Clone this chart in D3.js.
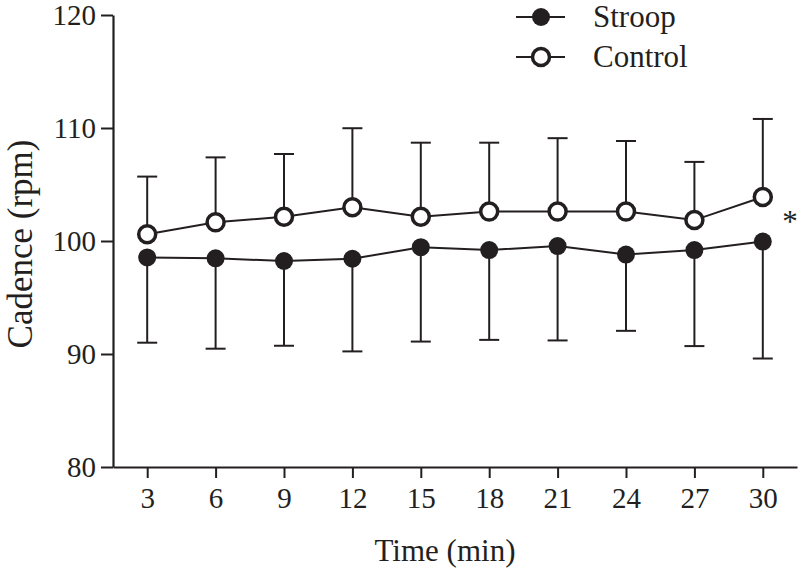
<!DOCTYPE html>
<html><head><meta charset="utf-8">
<script src="https://cdn.jsdelivr.net/npm/d3@7"></script>
<style>body{margin:0;background:#fff}</style>
</head><body>
<svg id="c" width="800" height="572"></svg>
<script>
const times = [3, 6, 9, 12, 15, 18, 21, 24, 27, 30];
const stroopMean = [98.55, 98.47, 98.23, 98.43, 99.45, 99.2, 99.55, 98.8, 99.2, 99.95];
const stroopSD   = [7.55, 8.0, 7.5, 8.2, 8.35, 7.95, 8.35, 6.75, 8.5, 10.35];
const controlMean = [100.6, 101.65, 102.15, 102.98, 102.15, 102.6, 102.6, 102.6, 101.85, 103.9];
const controlSD   = [5.1, 5.75, 5.55, 7.0, 6.55, 6.1, 6.5, 6.25, 5.15, 6.9];
const yTicks = [80, 90, 100, 110, 120];
const seriesNames = ["Stroop", "Control"];

const ink = "#231f20";
const font = "'Liberation Serif','Times New Roman',serif";
const svg = d3.select("#c");

const x = d3.scaleLinear().domain([1.5, 31.5]).range([113, 797]);
const y = d3.scaleLinear().domain([80, 120]).range([467, 15]);

// axes
const yAxis = svg.append("g").attr("transform", "translate(113,0)")
  .call(d3.axisLeft(y).tickValues(yTicks).tickSize(12).tickPadding(5).tickSizeOuter(0));
const xAxis = svg.append("g").attr("transform", "translate(0,467)")
  .call(d3.axisBottom(x).tickValues(times).tickSize(11).tickPadding(9).tickSizeOuter(0));
[yAxis, xAxis].forEach(g => {
  g.select(".domain").attr("stroke", ink).attr("stroke-width", 2.2);
  g.selectAll(".tick line").attr("stroke", ink).attr("stroke-width", 2);
  g.selectAll(".tick text").attr("fill", ink).style("font-family", font).style("font-size", "29px");
});
yAxis.selectAll(".tick text").attr("dy", "0.34em");

svg.append("text").attr("x", 445).attr("y", 561).attr("text-anchor", "middle")
  .attr("fill", ink).style("font-family", font).style("font-size", "31px").text("Time (min)");
svg.append("text").attr("transform", "translate(32,244) rotate(-90)").attr("text-anchor", "middle")
  .attr("fill", ink).style("font-family", font).style("font-size", "35px").text("Cadence (rpm)");

const cap = 10;
// error bars
function errBars(means, sds, dir) {
  const g = svg.append("g").attr("stroke", ink).attr("stroke-width", 2);
  times.forEach((t, i) => {
    const y0 = y(means[i]), y1 = y(means[i] + dir * sds[i]);
    g.append("line").attr("x1", x(t)).attr("x2", x(t)).attr("y1", y0).attr("y2", y1);
    g.append("line").attr("x1", x(t) - cap).attr("x2", x(t) + cap).attr("y1", y1).attr("y2", y1);
  });
}
errBars(stroopMean, stroopSD, -1);
errBars(controlMean, controlSD, 1);

const line = d3.line().x(d => x(d[0])).y(d => y(d[1]));
svg.append("path").datum(times.map((t, i) => [t, stroopMean[i]])).attr("d", line)
  .attr("fill", "none").attr("stroke", ink).attr("stroke-width", 2);
svg.append("path").datum(times.map((t, i) => [t, controlMean[i]])).attr("d", line)
  .attr("fill", "none").attr("stroke", ink).attr("stroke-width", 2);

svg.append("g").selectAll("circle").data(times).join("circle")
  .attr("cx", d => x(d)).attr("cy", (d, i) => y(stroopMean[i])).attr("r", 9).attr("fill", ink);
svg.append("g").selectAll("circle").data(times).join("circle")
  .attr("cx", d => x(d)).attr("cy", (d, i) => y(controlMean[i])).attr("r", 8.5)
  .attr("fill", "#fff").attr("stroke", ink).attr("stroke-width", 3.5);

// significance
svg.append("text").attr("x", 790).attr("y", 232).attr("text-anchor", "middle")
  .attr("fill", ink).style("font-family", font).style("font-size", "31px").text("*");

// legend
const leg = svg.append("g");
seriesNames.forEach((name, i) => {
  const ly = 17 + i * 40;
  leg.append("line").attr("x1", 516).attr("x2", 565).attr("y1", ly).attr("y2", ly)
    .attr("stroke", ink).attr("stroke-width", 2);
  if (i === 0) leg.append("circle").attr("cx", 541).attr("cy", ly).attr("r", 9).attr("fill", ink);
  else leg.append("circle").attr("cx", 541).attr("cy", ly).attr("r", 8.5).attr("fill", "#fff")
    .attr("stroke", ink).attr("stroke-width", 3.5);
  leg.append("text").attr("x", 593).attr("y", ly + 10).attr("fill", ink)
    .style("font-family", font).style("font-size", "31px").text(name);
});
</script>
</body></html>
